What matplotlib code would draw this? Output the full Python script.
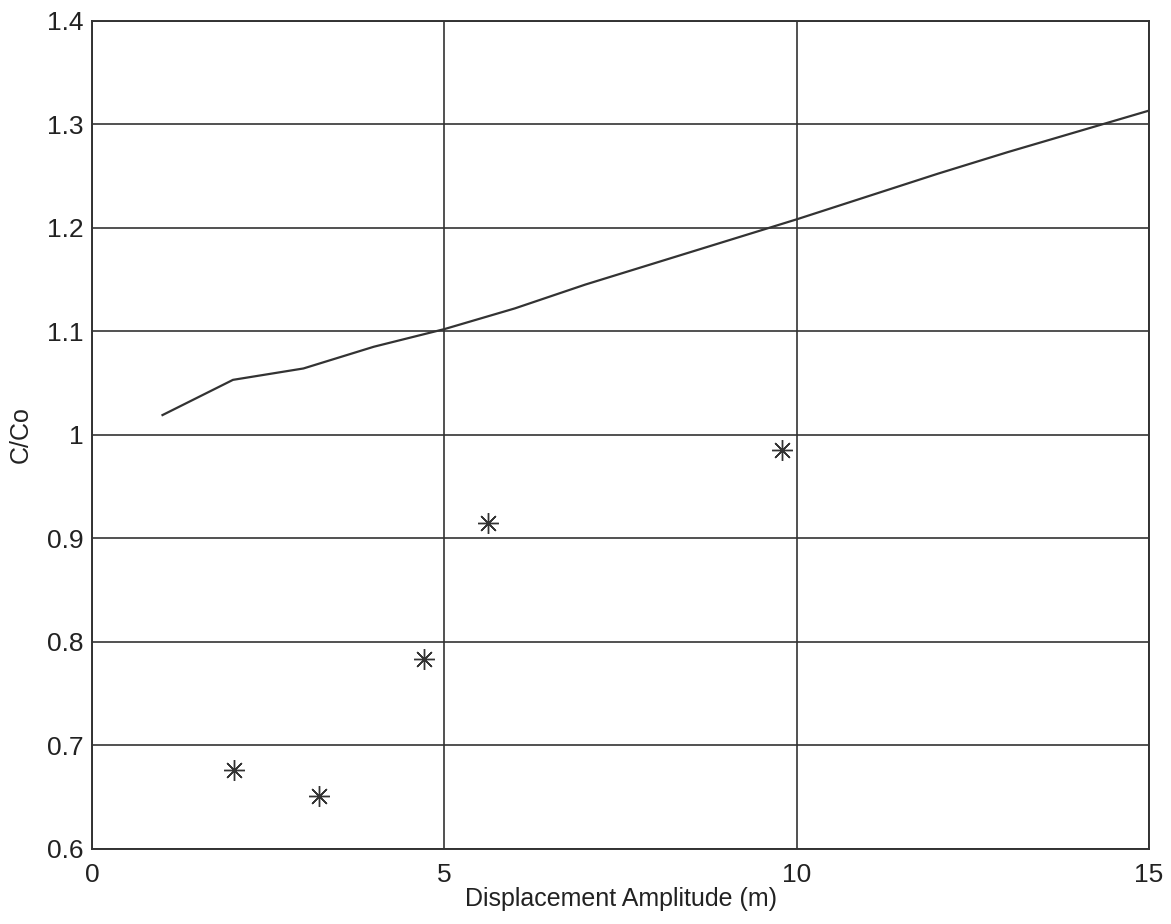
import matplotlib.pyplot as plt

plt.rcParams['font.family'] = ['Liberation Sans', 'DejaVu Sans']

# model curve
amp_line = [1, 2, 3, 4, 5, 6, 7, 8, 9, 10, 11, 12, 13, 14, 15]
ratio_line = [1.019, 1.053, 1.064, 1.085, 1.102, 1.122, 1.145, 1.166,
              1.187, 1.208, 1.230, 1.252, 1.273, 1.293, 1.313]

# measured points
amp_pts = [2.01, 3.22, 4.71, 5.62, 9.79]
ratio_pts = [0.676, 0.651, 0.783, 0.915, 0.985]

xticks = [0, 5, 10, 15]
yticks = [0.6, 0.7, 0.8, 0.9, 1.0, 1.1, 1.2, 1.3, 1.4]
ytick_labels = ['0.6', '0.7', '0.8', '0.9', '1', '1.1', '1.2', '1.3', '1.4']

fig = plt.figure(figsize=(11.71, 9.24), dpi=100)
ax = fig.add_axes([0.0786, 0.0812, 0.9026, 0.8966])

ax.plot(amp_line, ratio_line, color='#333333', linewidth=1.6)
ax.plot(amp_pts, ratio_pts, linestyle='none', marker=(8, 2, 0),
        markersize=15, markeredgewidth=1.0, color='#333333')

ax.set_xlim(0, 15)
ax.set_ylim(0.6, 1.4)
ax.set_xticks(xticks)
ax.set_yticks(yticks)
ax.set_yticklabels(ytick_labels)
ax.grid(True, color='#333333', linewidth=1.2, linestyle='-')
ax.set_axisbelow(True)
ax.tick_params(direction='in', length=0, labelsize=19, colors='#222222')
ax.tick_params(axis='x', pad=10)
ax.tick_params(axis='y', pad=6)

for s in ax.spines.values():
    s.set_color('#333333')
    s.set_linewidth(1.4)

ax.set_xlabel('Displacement Amplitude (m)', fontsize=18, color='#222222', labelpad=0)
ax.set_ylabel('C/Co', fontsize=18, color='#222222', labelpad=10)

fig.savefig('out.png', dpi=100)
